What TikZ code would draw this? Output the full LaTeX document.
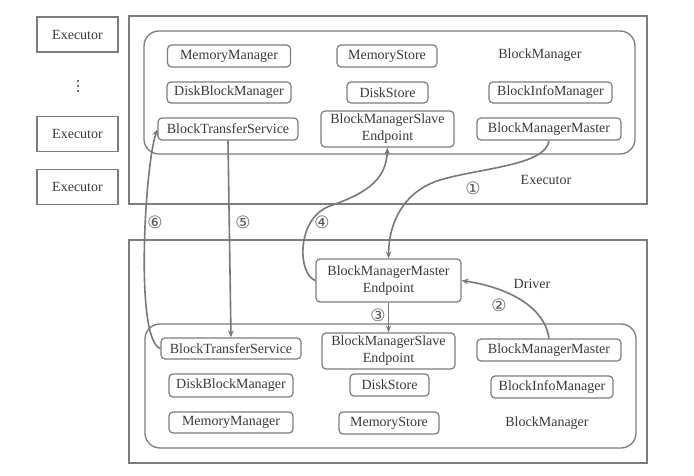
\documentclass[tikz,border=0pt]{standalone}
\usepackage{fontspec}
\setmainfont{Liberation Serif}
\newfontfamily\circfont{DejaVu Sans}
\usetikzlibrary{arrows.meta}
\definecolor{ink}{RGB}{58,58,58}
\definecolor{frame}{RGB}{125,125,125}
\definecolor{wire}{RGB}{120,120,120}
\begin{document}
\begin{tikzpicture}[x=1pt,y=-1pt,
  every node/.style={font=\fontsize{14}{17}\selectfont, text=ink},
  comp/.style={draw=frame, line width=1.2pt, rounded corners=4pt, inner sep=0pt, align=center},
  exbox/.style={draw=frame, line width=1.3pt, inner sep=0pt, minimum width=81pt, minimum height=35pt},
  region/.style={draw=frame, line width=1.3pt},
  group/.style={draw=frame, line width=1.3pt, rounded corners=15pt},
  flow/.style={draw=wire, line width=1.6pt, -{Stealth[length=7pt,width=5.5pt]}},
  steplabel/.style={font=\circfont\fontsize{17}{17}\selectfont, text=ink!85}
]
% canvas
\fill[white] (0,0) rectangle (694,476);
\useasboundingbox (0,0) rectangle (694,476);

% executor list on the left
\node[exbox] (ex1) at (77.5,34.5) {Executor};
\fill[ink] (78,81) circle (1.1) (78,86) circle (1.1) (78,91) circle (1.1);
\node[exbox] (ex2) at (77.5,134) {Executor};
\node[exbox] (ex3) at (77.5,187) {Executor};

% ---------- executor side ----------
\draw[region] (129,16) rectangle (647,204);
\draw[group] (144,31) rectangle (635,154);

\node[comp, minimum width=123pt, minimum height=22pt] (mm1) at (229,56) {MemoryManager};
\node[comp, minimum width=124pt, minimum height=21pt] (dbm1) at (229,92.5) {DiskBlockManager};
\node[comp, minimum width=140pt, minimum height=22pt] (bts1) at (228,129) {BlockTransferService};
\node[comp, minimum width=100pt, minimum height=22pt] (ms1) at (387,56) {MemoryStore};
\node[comp, minimum width=81pt, minimum height=21pt] (ds1) at (387.5,92.5) {DiskStore};
\node[comp, minimum width=133pt, minimum height=36pt] (bmse1) at (387.5,129) {BlockManagerSlave\\Endpoint};
\node (bm1) at (540,55) {BlockManager};
\node[comp, minimum width=123pt, minimum height=21pt] (bim1) at (550.5,92.5) {BlockInfoManager};
\node[comp, minimum width=144pt, minimum height=22pt] (bmm1) at (549,129) {BlockManagerMaster};
\node (exlabel) at (546,180) {Executor};

% ---------- driver side ----------
\draw[region] (129,240) rectangle (647,463);
\draw[group] (145,324) rectangle (636,448);

\node[comp, minimum width=145pt, minimum height=43pt] (bmme) at (388.5,280.5) {BlockManagerMaster\\Endpoint};
\node (drvlabel) at (532,284) {Driver};

\node[comp, minimum width=140pt, minimum height=21pt] (bts2) at (231,348.5) {BlockTransferService};
\node[comp, minimum width=124pt, minimum height=23pt] (dbm2) at (231,385.5) {DiskBlockManager};
\node[comp, minimum width=124pt, minimum height=21pt] (mm2) at (231,422.5) {MemoryManager};
\node[comp, minimum width=133pt, minimum height=36pt] (bmse2) at (388.5,351) {BlockManagerSlave\\Endpoint};
\node[comp, minimum width=79pt, minimum height=22pt] (ds2) at (389.5,385) {DiskStore};
\node[comp, minimum width=100pt, minimum height=22pt] (ms2) at (389,423) {MemoryStore};
\node[comp, minimum width=144pt, minimum height=22pt] (bmm2) at (549,350) {BlockManagerMaster};
\node[comp, minimum width=122pt, minimum height=22pt] (bim2) at (552,387) {BlockInfoManager};
\node (bm2) at (547,423) {BlockManager};

% ---------- message flow ----------
% (1) executor master registers with the driver endpoint
\coordinate (bend1) at (440,180);
\draw[flow] (bmm1.south) .. controls +(-3,25) and (480,168) .. (bend1)
  .. controls (410,189) and (389,215) .. (bmme.north);
% (2) driver master talks to its endpoint
\draw[flow] (bmm2.north) .. controls +(-5,-35) and +(40,6) .. (bmme.east);
% (3) endpoint to the driver slave endpoint
\draw[flow] (bmme.south) -- (bmse2.north);
% (4) endpoint back to the executor slave endpoint
\coordinate (bend4) at (330,206);
\draw[flow] (bmme.west) .. controls +(-18,-6) and (296,218) .. (bend4)
  .. controls (370,192) and (386,178) .. (bmse1.south);
% (5) block transfer executor -> driver
\draw[flow] (bts1.south) -- (bts2.north);
% (6) block transfer driver -> executor
\draw[flow] (bts2.west) .. controls +(-26,-8) and (145,165) .. (bts1.west);

% step numbers
\node[steplabel] (s1) at (473,188) {①};
\node[steplabel] (s2) at (499,305) {②};
\node[steplabel] (s3) at (378,315) {③};
\node[steplabel] (s4) at (322,222) {④};
\node[steplabel] (s5) at (243,222) {⑤};
\node[steplabel] (s6) at (155,222) {⑥};
\end{tikzpicture}
\end{document}
